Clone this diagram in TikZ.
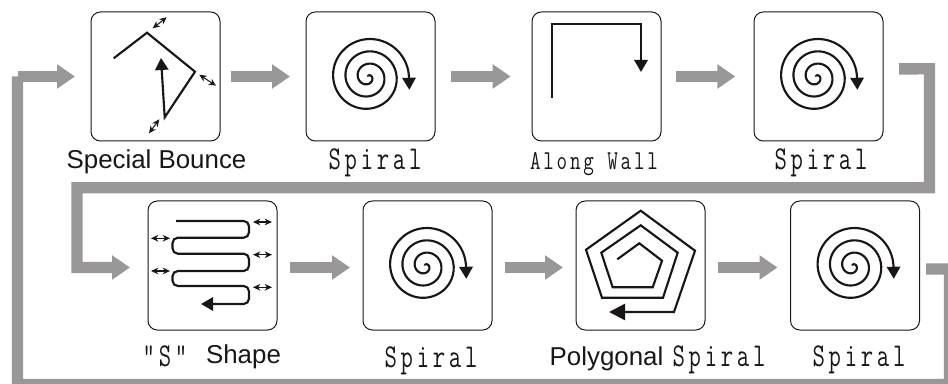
\documentclass[tikz,border=0pt]{standalone}
\usepackage{fontspec}
\setmainfont{Liberation Sans}
\newfontfamily\simfont[FakeStretch=0.72,LetterSpace=11.2]{Latin Modern Mono}
\newfontfamily\simfontb[FakeStretch=0.75,LetterSpace=10.2]{Latin Modern Mono}
\usetikzlibrary{arrows.meta,calc}
\definecolor{flow}{HTML}{999797}
\definecolor{ink}{HTML}{1A1616}
\tikzset{
  x=0.75pt,y=-0.75pt,
  modebox/.style={draw=ink,line width=0.75pt,rounded corners=7pt,minimum width=96.75pt,minimum height=96.75pt,inner sep=0pt,outer sep=0pt},
  flowline/.style={draw=flow,line width=8.5pt,line join=miter,-{Triangle[length=13.5pt,width=17.5pt]}},
  flowtail/.style={draw=flow,line width=8.5pt,line join=miter},
  path icon/.style={draw=ink,line width=1.6pt,line join=miter},
  icontip/.style={-{Triangle[length=9pt,width=10pt]}},
  bigtip/.style={-{Triangle[length=12pt,width=12pt]}},
  both/.style={draw=ink,line width=0.8pt,{Stealth[length=5.5pt,width=5pt]}-{Stealth[length=5.5pt,width=5pt]}},
  sanslabel/.style={font=\fontsize{19.4pt}{21pt}\selectfont,text=ink,inner sep=0pt,anchor=base},
  monolabel/.style={font=\simfont\fontsize{25pt}{27pt}\selectfont,text=ink,inner sep=0pt,anchor=base},
  spiralicon/.pic={
    \draw[path icon,icontip] plot[smooth,domain=-0.6:6,samples=140]
      ({-2.5+(4+6.17*\x)*cos(\x*180)},{0.5+(4+6.17*\x)*sin(\x*180)}) -- ++(0.3,13);
  }
}
\begin{document}
\begin{tikzpicture}
\clip (0,0) rectangle (948,384);
% boxes
\node[modebox] (b1) at (155.5,76.5) {};
\node[modebox] (b2) at (370.5,76.5) {};
\node[modebox] (b3) at (596.5,76.5) {};
\node[modebox] (b4) at (818.5,76.5) {};
\node[modebox] (b5) at (212.5,265.5) {};
\node[modebox] (b6) at (427.5,265.5) {};
\node[modebox] (b7) at (640.5,265.5) {};
\node[modebox] (b8) at (855,265.5) {};
% labels
\node[sanslabel] (l1) at (156.5,168.5) {Special Bounce};
\node[monolabel] (l2) at (375,170) {Spiral};
\node[monolabel,font=\simfontb\fontsize{20.5pt}{23pt}\selectfont] (l3) at (594,170) {Along Wall};
\node[monolabel] (l4) at (821,170) {Spiral};
\node[monolabel] (l5a) at (165,366) {"S"};
\node[sanslabel] (l5b) at (243.5,363) {Shape};
\node[monolabel] (l6) at (431,367) {Spiral};
\node[sanslabel] (l7a) at (606.5,365) {Polygonal};
\node[monolabel] (l7b) at (719,366) {Spiral};
\node[monolabel] (l8) at (859,366) {Spiral};
% flow connectors
\coordinate (r1) at (929.5,68.8);
\coordinate (r2) at (929.5,187.7);
\coordinate (r3) at (77,187.7);
\coordinate (r4) at (77,267.5);
\coordinate (s1) at (949.5,269);
\coordinate (s2) at (949.5,384.5);
\coordinate (s3) at (17.5,384.5);
\coordinate (s4) at (17.5,76.5);
\draw[flowline] (s4) -- ([xshift=-12pt]b1.west);
\draw[flowtail] ([xshift=4.9pt,yshift=-2.6pt]b8.east) -- (s1) -- (s2) -- (s3) -- (s4);
\draw[flowline] ([xshift=8.25pt]b1.east) -- ([xshift=-12pt]b2.west);
\draw[flowline] ([xshift=12pt]b2.east) -- ([xshift=-16pt]b3.west);
\draw[flowline] ([xshift=11pt]b3.east) -- ([xshift=-14pt]b4.west);
\draw[flowline] ([xshift=12pt,yshift=5.7pt]b4.east) -- (r1) -- (r2) -- (r3) -- (r4) -- ([xshift=-13.5pt,yshift=-1.5pt]b5.west);
\draw[flowline] ([xshift=9.75pt,yshift=-1.5pt]b5.east) -- ([xshift=-9.75pt,yshift=-1.5pt]b6.west);
\draw[flowline] ([xshift=9.75pt,yshift=-1.5pt]b6.east) -- ([xshift=-9.75pt,yshift=-1.5pt]b7.west);
\draw[flowline] ([xshift=9.75pt,yshift=-1.5pt]b7.east) -- ([xshift=-9.75pt,yshift=-1.5pt]b8.west);
% special bounce icon
\draw[path icon,icontip] (113.7,58.3) -- (147,32.7) -- (195,71.7) -- (164.7,117.3) -- (161,58);
\draw[both] (152.7,28.3) -- (166.7,17.3);
\draw[both] (199.3,74.7) -- (216,85.7);
\draw[both] (149,133.3) -- (159.3,119.3);
% spirals
\pic at (b2.center) {spiralicon};
\pic at (b4.center) {spiralicon};
\pic at (b6.center) {spiralicon};
\pic at (b8.center) {spiralicon};
% along wall icon
\draw[path icon,icontip] (551.7,98.3) -- (551.7,24) -- (641,24) -- (641,72);
% S shape icon
\draw[path icon,icontip,rounded corners=4pt] (176,221) -- (249,221) -- (249,237.7) -- (172.5,237.7) -- (172.5,253.7) -- (249,253.7) -- (249,271) -- (172.5,271) -- (172.5,286) -- (249,286) -- (249,304) -- (201,304);
\draw[both] (253,222) -- (272,222);
\draw[both] (253,254.7) -- (272,254.7);
\draw[both] (253,287.3) -- (272,287.3);
\draw[both] (151,238.3) -- (170,238.3);
\draw[both] (151,271) -- (170,271);
% polygon icon
\draw[path icon,bigtip] (617.3,259.3) -- (639.3,243.3) -- (662,260.7) -- (652.7,287.3) -- (612.7,287.3) -- (601.3,252.7) -- (640.7,225.3) -- (677.7,252.7) -- (663,297.7) -- (602,297.7) -- (586,249.7) -- (640.7,210.7) -- (695,250.7) -- (674,312) -- (609,312);
\end{tikzpicture}
\end{document}
